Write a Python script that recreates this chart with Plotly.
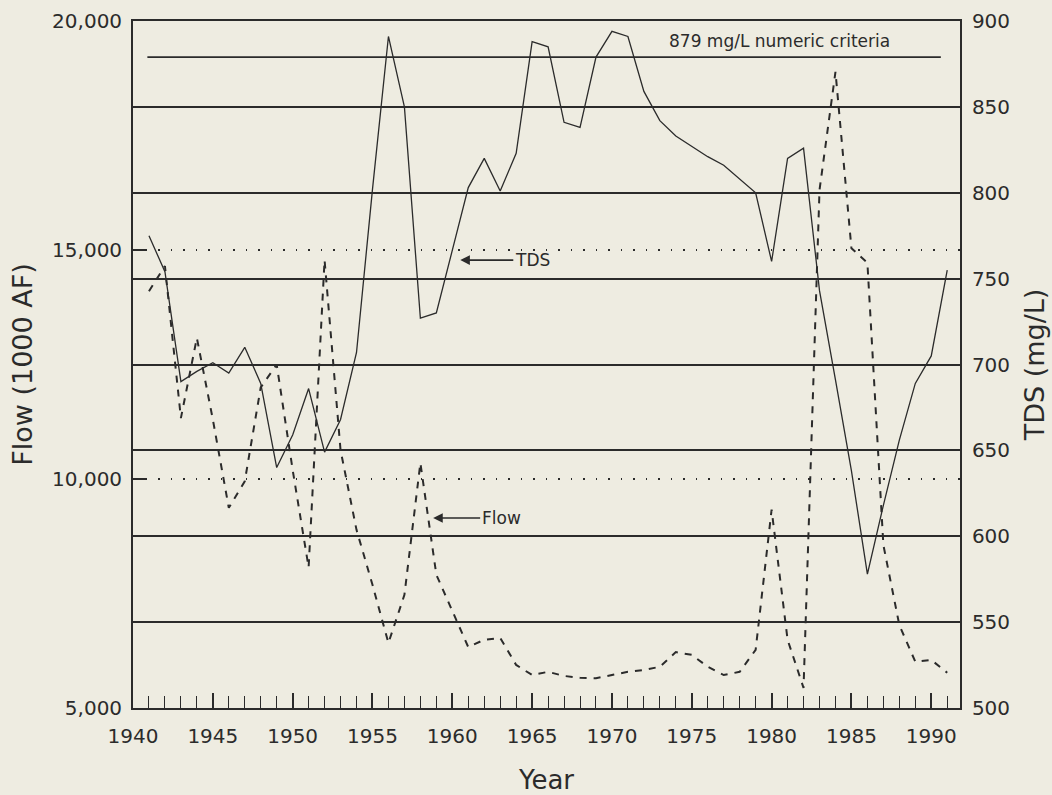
import plotly.graph_objects as go

# ---- data ----
years = list(range(1941, 1992))

tds_mg_l = [775, 754, 690, 696, 701, 695, 710, 689, 640, 659,
            686, 649, 668, 707, 802, 891, 850, 727, 730, 767,
            803, 820, 801, 823, 888, 885, 841, 838, 879, 894,
            891, 859, 842, 833, 827, 821, 816, 808, 800, 760,
            820, 826, 743, 691, 638, 578, 618, 656, 689, 705,
            755]

flow_kaf = [14100, 14650, 11330, 13080, 11300, 9370, 9950, 12000, 12500, 10200,
            8070, 14780, 10630, 8890, 7690, 6420, 7470, 10350, 7910, 7100,
            6330, 6490, 6530, 5940, 5720, 5790, 5700, 5660, 5650, 5720,
            5790, 5830, 5900, 6220, 6160, 5900, 5720, 5790, 6270, 9330,
            6490, 5440, 16310, 18890, 15040, 14720, 8560, 6810, 6010, 6050,
            5770]

criteria_tds = 879
criteria_span = [1940.9, 1990.6]

flow_ticks = [5000, 10000, 15000, 20000]
flow_tick_text = ["5,000", "10,000", "15,000", "20,000"]
tds_ticks = [500, 550, 600, 650, 700, 750, 800, 850, 900]

BG = "#EEECE1"
INK = "#2B2B2B"
FONT = "DejaVu Sans"

fig = go.Figure()

fig.add_trace(go.Scatter(
    x=years, y=flow_kaf, mode="lines", name="Flow",
    line=dict(color=INK, width=2, dash="7px,7px"),
    yaxis="y", showlegend=False))

fig.add_trace(go.Scatter(
    x=years, y=tds_mg_l, mode="lines", name="TDS",
    line=dict(color=INK, width=1.3),
    yaxis="y2", showlegend=False))

# 879 mg/L criteria line
fig.add_shape(type="line", xref="x", yref="y2",
              x0=criteria_span[0], x1=criteria_span[1],
              y0=criteria_tds, y1=criteria_tds,
              line=dict(color=INK, width=1.8))

fig.add_annotation(x=1980.5, y=888.5, xref="x", yref="y2",
                   text="879 mg/L numeric criteria", showarrow=False,
                   font=dict(family=FONT, size=17, color=INK))

# series labels with arrows
fig.add_annotation(x=1960.5, y=14780, xref="x", yref="y",
                   text="TDS", showarrow=True, ax=72, ay=0,
                   arrowhead=2, arrowsize=1.2, arrowwidth=1.6, arrowcolor=INK,
                   font=dict(family=FONT, size=17, color=INK))
fig.add_annotation(x=1958.8, y=9150, xref="x", yref="y",
                   text="Flow", showarrow=True, ax=68, ay=0,
                   arrowhead=2, arrowsize=1.2, arrowwidth=1.6, arrowcolor=INK,
                   font=dict(family=FONT, size=17, color=INK))

fig.update_layout(
    width=1052, height=795,
    margin=dict(l=133, r=92, t=21, b=87, autoexpand=False),
    paper_bgcolor=BG, plot_bgcolor=BG,
    font=dict(family=FONT, color=INK, size=20),
    xaxis=dict(
        range=[1940, 1991.8], tick0=1940, dtick=5, automargin=False,
        ticks="inside", ticklen=15, tickwidth=1.6, tickcolor=INK,
        minor=dict(dtick=1, tick0=1940, ticks="inside", ticklen=12,
                   tickwidth=1.2, tickcolor=INK),
        showgrid=False, zeroline=False,
        showline=True, linecolor=INK, linewidth=1.8, mirror=True,
        tickfont=dict(family=FONT, size=20, color=INK),
        ticklabelstandoff=9,
        title=dict(text="Year", font=dict(family=FONT, size=26, color=INK),
                   standoff=24),
    ),
    yaxis=dict(
        range=[5000, 20000], tickvals=flow_ticks, ticktext=flow_tick_text,
        automargin=False,
        ticks="inside", ticklen=14, tickwidth=1.6, tickcolor=INK,
        showgrid=True, gridcolor=INK, gridwidth=1.6, griddash="1.5px,11px",
        zeroline=False,
        showline=True, linecolor=INK, linewidth=1.8, mirror=True,
        tickfont=dict(family=FONT, size=20, color=INK),
        ticklabelstandoff=5,
        title=dict(text="Flow (1000 AF)", font=dict(family=FONT, size=27, color=INK),
                   standoff=12),
    ),
    yaxis2=dict(
        range=[500, 900], tickvals=tds_ticks, overlaying="y", side="right",
        automargin=False,
        ticks="", showgrid=True, gridcolor=INK, gridwidth=1.8,
        zeroline=False, showline=True, linecolor=INK, linewidth=1.8,
        tickfont=dict(family=FONT, size=20, color=INK),
        ticklabelstandoff=6,
        title=dict(text="TDS (mg/L)", font=dict(family=FONT, size=27, color=INK),
                   standoff=16),
    ),
)

fig.write_html("out.html",
               config={"displayModeBar": False},
               post_script="document.body.style.margin='0';"
                           "document.body.style.background='" + BG + "';")
